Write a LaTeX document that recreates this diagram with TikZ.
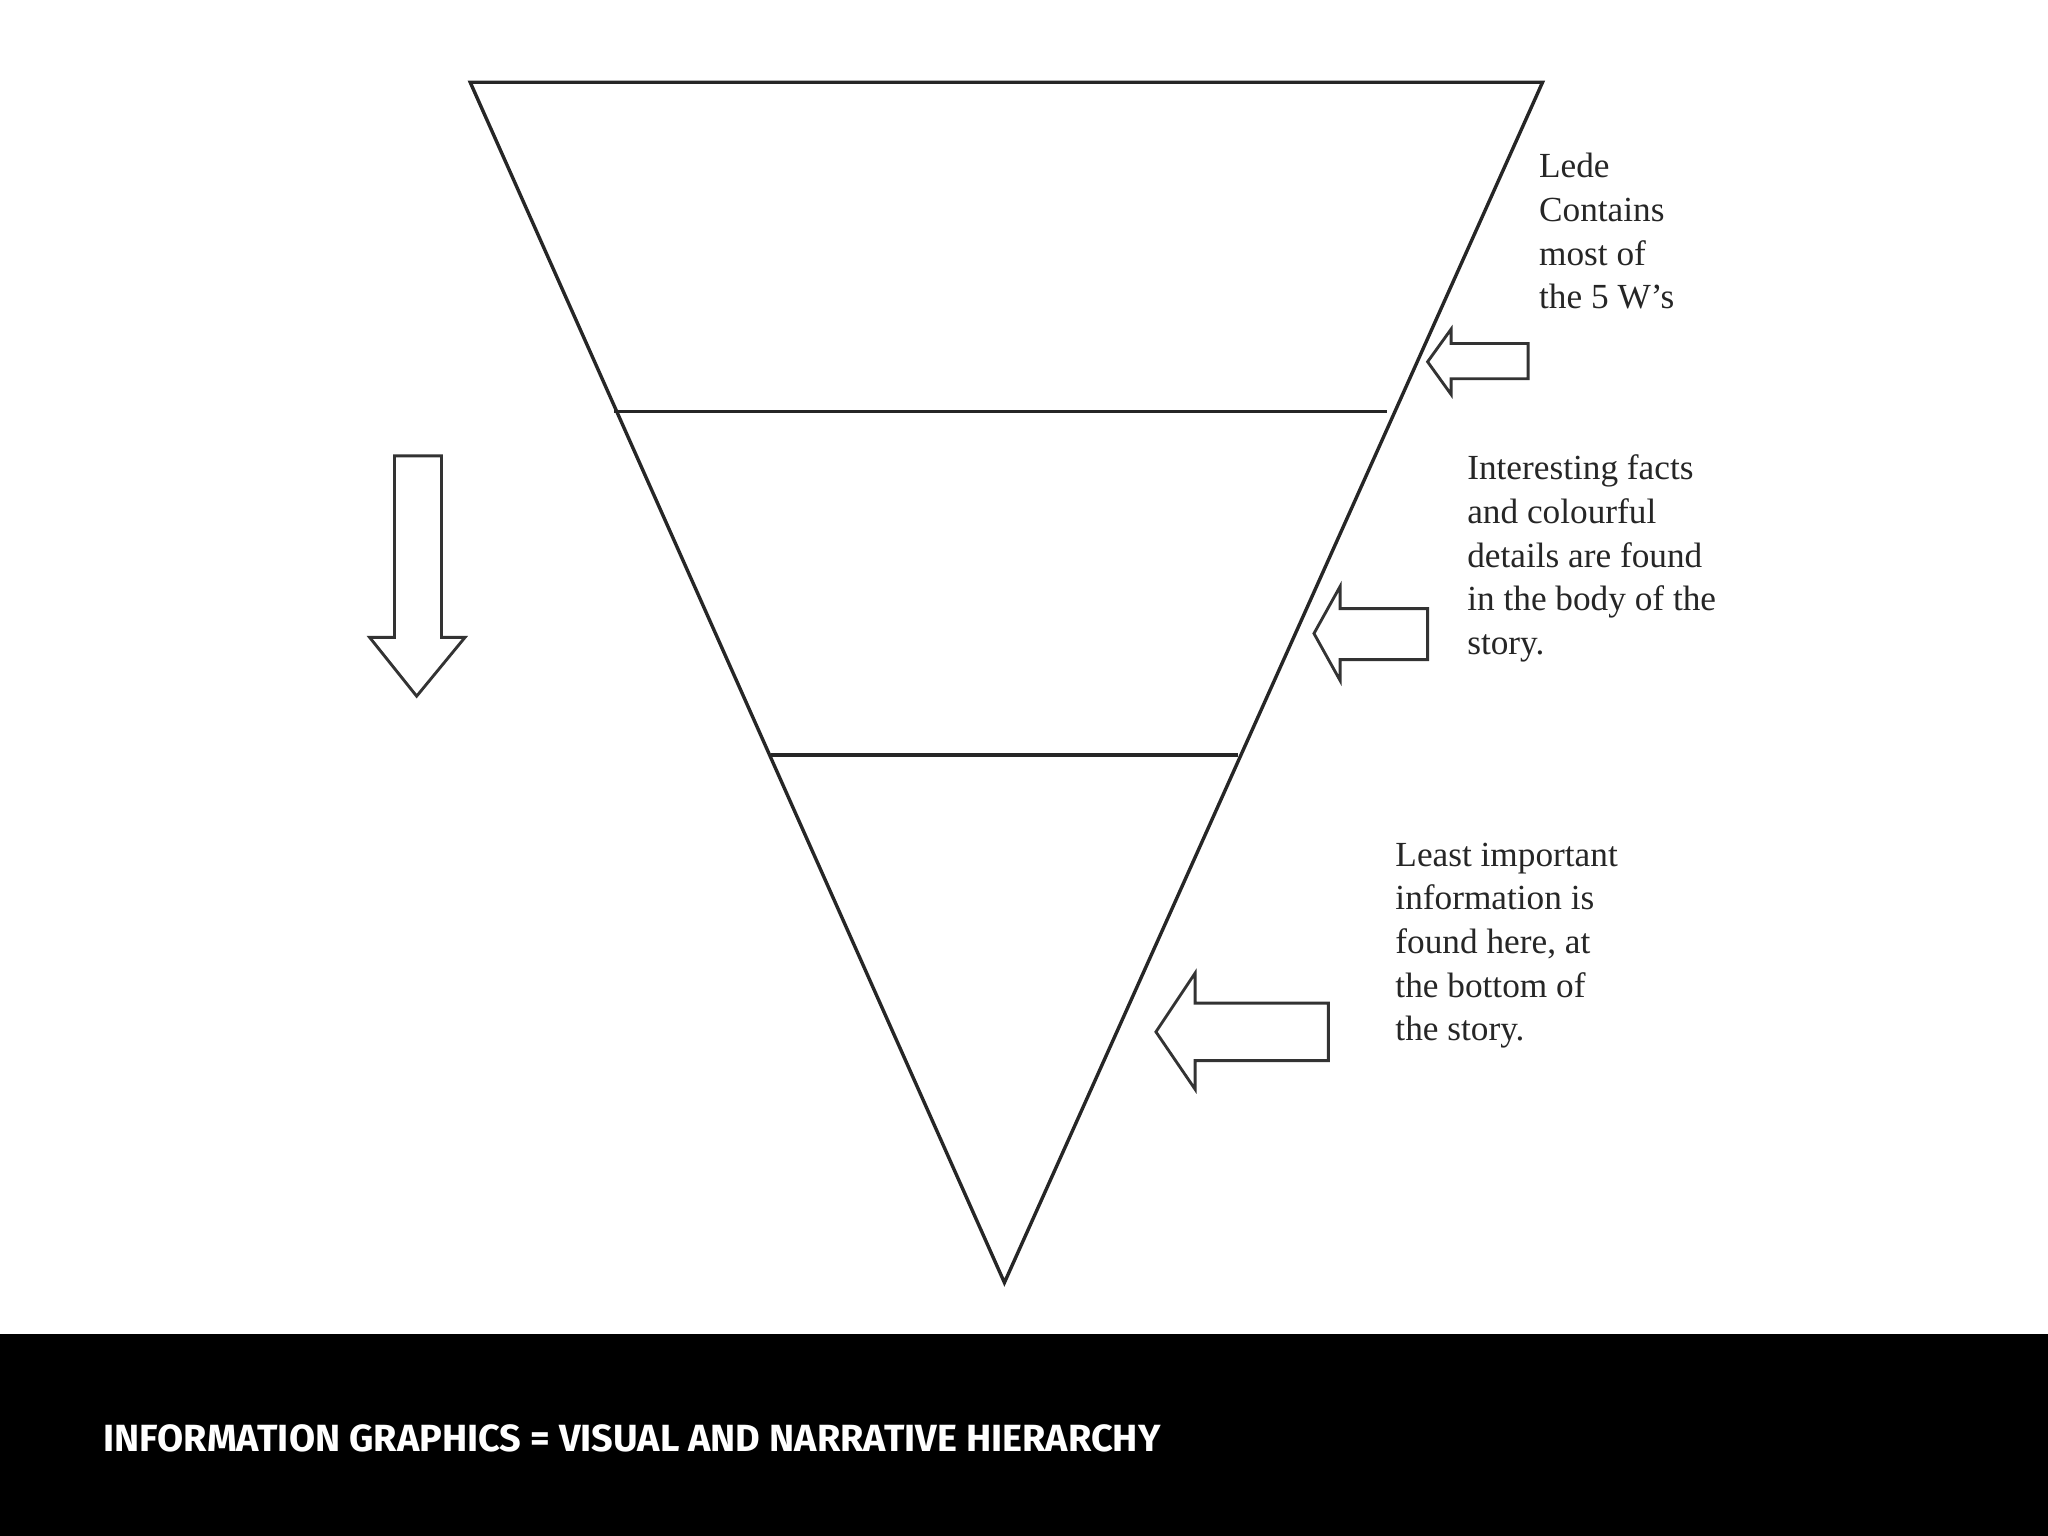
\documentclass[tikz,border=0pt]{standalone}
\usepackage{fontspec}
\setmainfont{Liberation Serif}
\newfontfamily\footfont{Fira Sans}
\begin{document}
\begin{tikzpicture}[x=0.5pt,y=-0.5pt,
  ln/.style={line width=1.3pt,draw=black!85},
  blk/.style={line width=1.1pt,draw=black!80,fill=white,line join=miter},
  lbl/.style={anchor=north west,align=left,inner sep=0pt,font=\fontsize{13.5}{16.7}\selectfont,text=black!85}]
\useasboundingbox (0,0) rectangle (1568,1176);
\fill[white] (0,0) rectangle (1568,1021);
\fill[black] (0,1021) rectangle (1568,1176);
% triangle
\draw[ln] (360,63) -- (1181,63) -- (769,982) -- cycle;
\draw[ln] (470,315) -- (1062,315);
\draw[ln] (590,578) -- (948,578);
% down arrow
\draw[blk] (302,349) -- (338,349) -- (338,488) -- (356,488) -- (319,533) -- (283,488) -- (302,488) -- cycle;
% left arrows
\draw[blk] (1093,277) -- (1111,252) -- (1111,263) -- (1170,263) -- (1170,290) -- (1111,290) -- (1111,302) -- cycle;
\draw[blk] (1006,485) -- (1026,449) -- (1026,466) -- (1093,466) -- (1093,505) -- (1026,505) -- (1026,521) -- cycle;
\draw[blk] (885,790) -- (915,745) -- (915,768) -- (1017,768) -- (1017,812) -- (915,812) -- (915,834) -- cycle;
% labels
\node[lbl] (lede) at (1178,117) {Lede\\Contains\\most of\\the 5 W’s};
\node[lbl] (body) at (1123,348) {Interesting facts\\and colourful\\details are found\\in the body of the\\story.};
\node[lbl] (least) at (1068,645) {Least important\\information is\\found here, at\\the bottom of\\the story.};
\node[anchor=base west,inner sep=0pt,text=white,font=\footfont\bfseries\fontsize{14.5}{16}\selectfont] (foot) at (79,1111) {INFORMATION GRAPHICS = VISUAL AND NARRATIVE HIERARCHY};
\end{tikzpicture}
\end{document}
